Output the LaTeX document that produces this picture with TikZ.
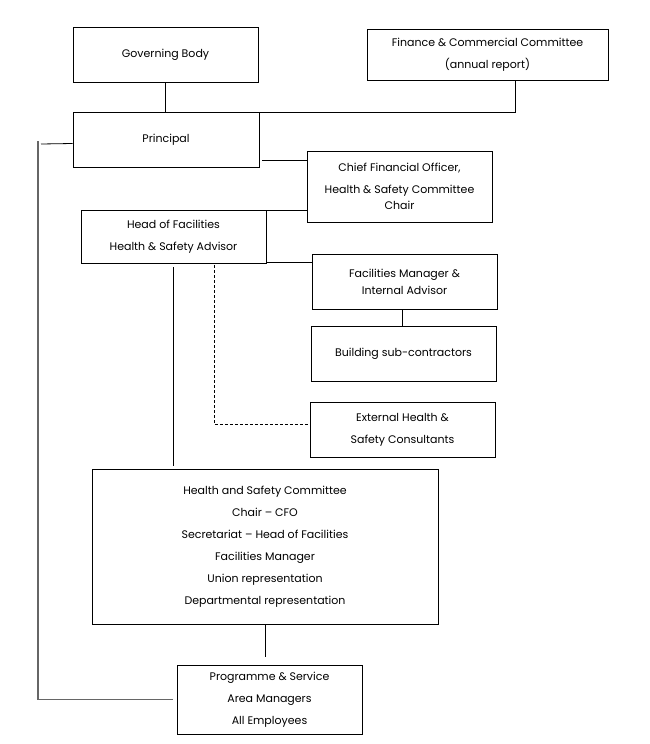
\documentclass[tikz,border=0pt]{standalone}
\usepackage{fontspec}
\setmainfont{Poppins}
\begin{document}
\begin{tikzpicture}[x=1pt, y=-1pt,
    box/.style={draw, line width=0.8pt, align=center, inner sep=0pt,
        font=\fontsize{11}{22}\selectfont},
    link/.style={line width=0.8pt},
    lefty/.style={draw=gray!80!black, line width=1.5pt}]
    \useasboundingbox (0,0) rectangle (649,744);

    % Top level
    \node[box, minimum width=185pt, minimum height=55pt] (gov) at (165.5,54.5) {Governing Body};
    \node[box, minimum width=241pt, minimum height=51pt] (fin) at (487.5,54.5)
        {Finance \& Commercial Committee\\(annual report)};
    \node[box, minimum width=186pt, minimum height=55pt] (prin) at (166,139.5) {Principal};

    % Officers
    \node[box, minimum width=185pt, minimum height=71pt] (cfo) at (399.5,186.5)
        {Chief Financial Officer,\\[0pt] Health \& Safety Committee\\[-6pt] Chair};
    \node[box, minimum width=185pt, minimum height=53pt] (hof) at (173.5,236.5)
        {Head of Facilities\\Health \& Safety Advisor};
    \node[box, minimum width=185pt, minimum height=55pt] (fm) at (404.5,281.5)
        {Facilities Manager \&\\[-5pt] Internal Advisor};
    \node[box, minimum width=185pt, minimum height=55pt] (bsc) at (403.5,353.5) {Building sub-contractors};
    \node[box, minimum width=185pt, minimum height=55pt] (ext) at (402.5,429.5)
        {External Health \&\\Safety Consultants};

    % Committee and staff
    \node[box, minimum width=346pt, minimum height=155pt] (hsc) at (265,546.5)
        {Health and Safety Committee\\Chair -- CFO\\Secretariat -- Head of Facilities\\
         Facilities Manager\\Union representation\\Departmental representation};
    \node[box, minimum width=185pt, minimum height=69pt] (prog) at (269.5,699.5)
        {Programme \& Service\\Area Managers\\All Employees};

    % Connectors
    \draw[link] (gov.south) -- (gov.south |- prin.north);
    \draw[link] ([xshift=-93pt]fin.south east) |- ([yshift=-1pt]prin.north east);
    \coordinate (p1) at ([xshift=3pt,yshift=7pt]prin.south east);
    \draw[link] (p1) -- (p1 -| cfo.west);
    \draw[link] ([yshift=-1pt]hof.north east) -- ([yshift=-1pt]hof.north east -| cfo.west);
    \draw[link] ([yshift=1pt]hof.south east) -- ([yshift=1pt]hof.south east -| fm.west);
    \draw[link] ([xshift=-2pt]fm.south) -- ([xshift=-2pt]fm.south |- bsc.north);
    \coordinate (h1) at ([yshift=-4pt]hof.south);
    \draw[link] (h1) -- ([yshift=3pt]h1 |- hsc.north);
    \coordinate (h2) at ([xshift=40.5pt,yshift=-2pt]hof.south);
    \draw[link, dashed, dash pattern=on 3pt off 2pt] (h2) |- ([yshift=5pt]ext.west);
    \draw[link] (hsc.south) -- ([yshift=8pt]hsc.south |- prog.north);

    % Left return line
    \coordinate (l1) at (38,141);
    \draw[link] ([yshift=-4pt]prin.west) -- ([xshift=3pt]l1 |- 0,144);
    \draw[lefty] (l1) |- ([xshift=-4pt]prog.west);
\end{tikzpicture}
\end{document}
